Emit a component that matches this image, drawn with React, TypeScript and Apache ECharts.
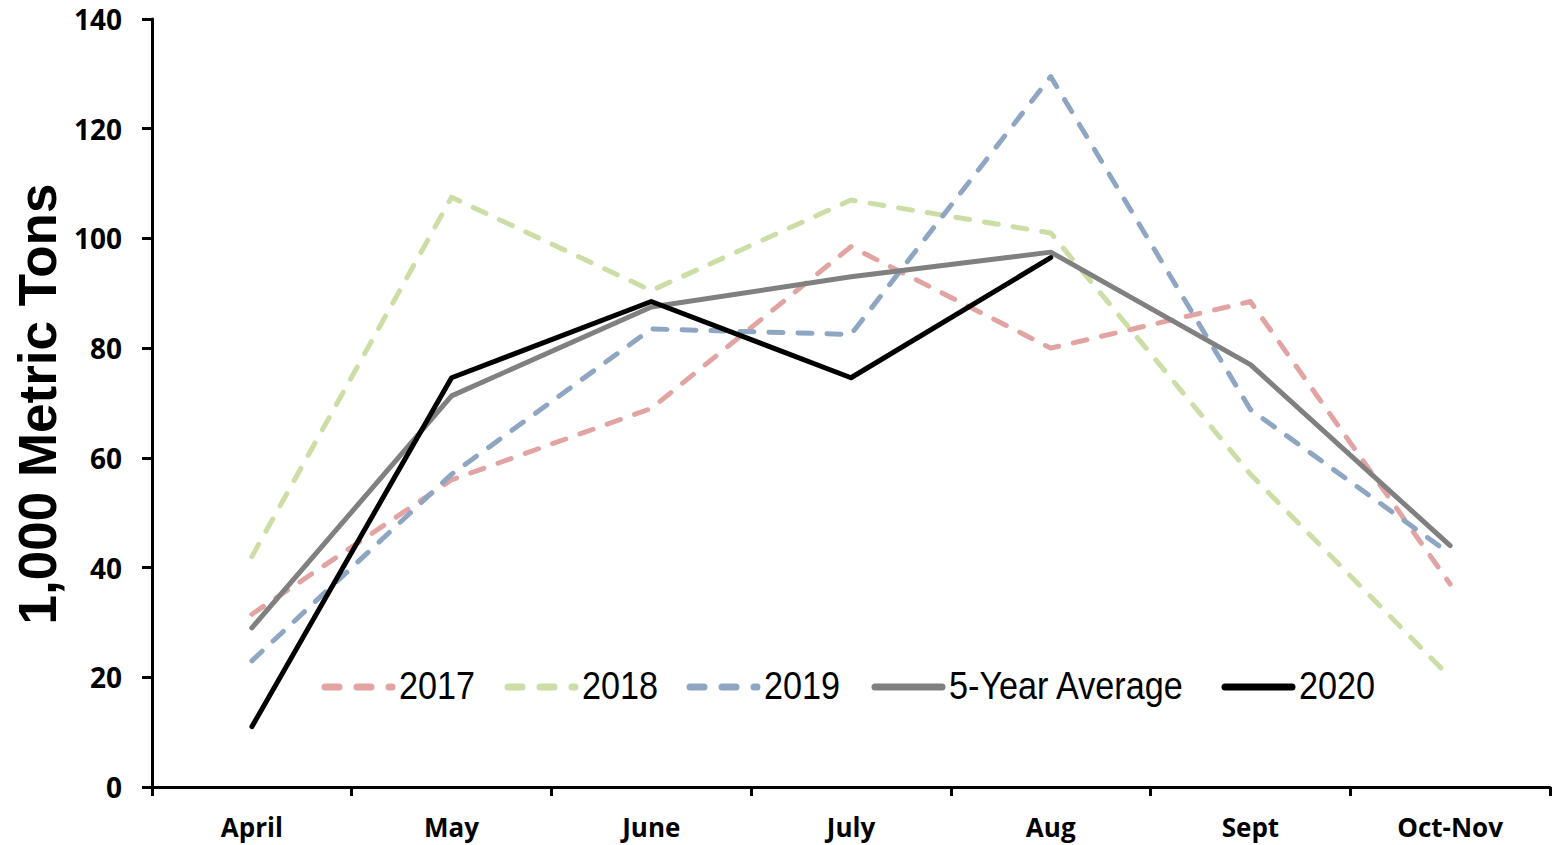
import { useEffect, useRef } from 'react';
import * as echarts from 'echarts';

// 月份类目
const months = ['April', 'May', 'June', 'July', 'Aug', 'Sept', 'Oct-Nov'];

// 各年份数据（千公吨）
const y2017 = [31.5, 56, 69, 98.5, 80, 88.5, 37];
const y2018 = [42, 107.5, 90.5, 107, 101, 57, 20];
const y2019 = [23, 57, 83.5, 82.5, 129.5, 68.8, 42.5];
const avg5 = [29, 71.3, 87.5, 93, 97.5, 77, 44];
const y2020 = [11, 74.6, 88.5, 74.6, 96.5];

const yTicks = { min: 0, max: 140, interval: 20 };

// 系列定义：名称、数据、颜色、是否虚线
const seriesDefs = [
  { name: '2017', data: y2017, color: '#E2A3A3', dashed: true },
  { name: '2018', data: y2018, color: '#CCDDA5', dashed: true },
  { name: '2019', data: y2019, color: '#8FA6C3', dashed: true },
  { name: '5-Year Average', data: avg5, color: '#808080', dashed: false },
  { name: '2020', data: y2020, color: '#000000', dashed: false }
];

// 图例位置（图标起点 x）
const legendX = [322, 505, 687, 872, 1222];
const legendY = 687;

const App: React.FC = () => {
  const chartRef = useRef<HTMLDivElement>(null);

  useEffect(() => {
    if (!chartRef.current) return;
    const chart = echarts.init(chartRef.current, undefined, { renderer: 'svg' });

    // 自绘图例：线段 + 窄体文字
    const legendGraphics: any[] = [];
    seriesDefs.forEach((s, i) => {
      const x0 = legendX[i];
      legendGraphics.push({
        type: 'line',
        silent: true,
        shape: { x1: x0 + 3, y1: legendY, x2: x0 + 70, y2: legendY },
        style: {
          stroke: s.color,
          lineWidth: 7,
          lineCap: 'round',
          lineDash: s.dashed ? [14, 18] : null
        }
      });
      legendGraphics.push({
        type: 'text',
        silent: true,
        x: x0 + 77,
        y: legendY - 1,
        scaleX: 0.9,
        style: {
          text: s.name,
          fill: '#000',
          font: '38px "Liberation Sans", Arial, sans-serif',
          textAlign: 'left',
          textVerticalAlign: 'middle'
        }
      });
    });

    chart.setOption({
      animation: false,
      grid: { left: 152, right: 2, top: 19, bottom: 58 },
      graphic: [
        {
          type: 'text',
          silent: true,
          x: 37,
          y: 404,
          rotation: Math.PI / 2,
          style: {
            text: '1,000 Metric Tons',
            fill: '#000',
            font: 'bold 53px "Liberation Sans", Arial, sans-serif',
            textAlign: 'center',
            textVerticalAlign: 'middle'
          }
        },
        ...legendGraphics
      ],
      xAxis: {
        type: 'category',
        data: months,
        boundaryGap: true,
        axisLine: { lineStyle: { color: '#000', width: 3 } },
        axisTick: { show: true, interval: 0, length: 9, lineStyle: { color: '#000', width: 3 } },
        axisLabel: {
          margin: 27,
          color: '#000',
          fontFamily: 'Open Sans',
          fontWeight: 'bold',
          fontSize: 26
        }
      },
      yAxis: {
        type: 'value',
        ...yTicks,
        splitLine: { show: false },
        axisLine: { show: true, lineStyle: { color: '#000', width: 3 } },
        axisTick: { show: true, length: 10, lineStyle: { color: '#000', width: 3 } },
        axisLabel: {
          margin: 30,
          color: '#000',
          fontFamily: 'Open Sans',
          fontWeight: 'bold',
          fontSize: 28
        }
      },
      series: seriesDefs.map((s) => ({
        name: s.name,
        type: 'line',
        data: s.data,
        symbol: 'none',
        itemStyle: { color: s.color },
        lineStyle: {
          color: s.color,
          width: 5,
          cap: 'round',
          join: 'round',
          type: s.dashed ? [14, 15] : 'solid'
        }
      }))
    });

    const handleResize = () => chart.resize();
    window.addEventListener('resize', handleResize);
    return () => {
      window.removeEventListener('resize', handleResize);
      chart.dispose();
    };
  }, []);

  return (
    <div
      ref={chartRef}
      style={{ position: 'fixed', left: 0, top: 0, width: '1552px', height: '845px', background: '#fff' }}
    />
  );
};

export default App;
